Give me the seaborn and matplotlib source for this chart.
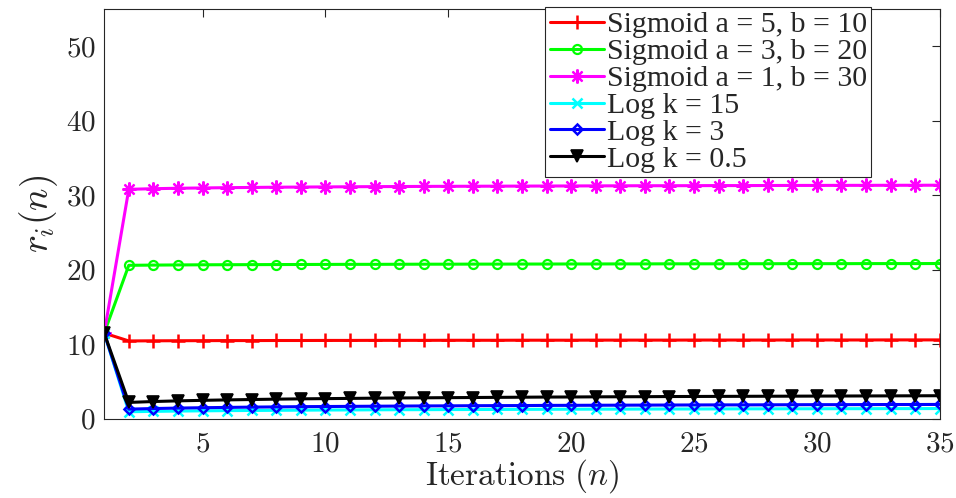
import numpy as np
import pandas as pd
import matplotlib
matplotlib.use("Agg")
import matplotlib.pyplot as plt
import seaborn as sns

iterations = list(range(1, 36))

sig_a5_b10 = [11.5, 10.45, 10.47, 10.48, 10.49, 10.50, 10.50, 10.51, 10.51, 10.52, 10.52, 10.53,
              10.53, 10.53, 10.54, 10.54, 10.54, 10.55, 10.55, 10.55, 10.56, 10.56, 10.56, 10.56,
              10.57, 10.57, 10.57, 10.57, 10.58, 10.58, 10.58, 10.58, 10.59, 10.59, 10.59]
sig_a3_b20 = [11.5, 20.60, 20.63, 20.65, 20.67, 20.68, 20.69, 20.70, 20.71, 20.72, 20.73, 20.73,
              20.74, 20.75, 20.75, 20.76, 20.76, 20.77, 20.77, 20.78, 20.78, 20.79, 20.79, 20.80,
              20.80, 20.80, 20.81, 20.81, 20.82, 20.82, 20.82, 20.83, 20.83, 20.83, 20.84]
sig_a1_b30 = [11.5, 30.80, 30.88, 30.94, 30.98, 31.02, 31.05, 31.08, 31.10, 31.12, 31.14, 31.16,
              31.17, 31.19, 31.20, 31.21, 31.22, 31.23, 31.24, 31.25, 31.26, 31.27, 31.28, 31.28,
              31.29, 31.30, 31.30, 31.31, 31.32, 31.32, 31.33, 31.33, 31.34, 31.34, 31.35]
log_k15 = [11.5, 0.95, 1.00, 1.04, 1.07, 1.10, 1.12, 1.14, 1.16, 1.18, 1.19, 1.21,
           1.22, 1.23, 1.24, 1.25, 1.26, 1.27, 1.28, 1.29, 1.30, 1.30, 1.31, 1.32,
           1.32, 1.33, 1.34, 1.34, 1.35, 1.35, 1.36, 1.36, 1.37, 1.37, 1.38]
log_k3 = [11.5, 1.30, 1.38, 1.44, 1.49, 1.53, 1.57, 1.60, 1.63, 1.65, 1.67, 1.69,
          1.71, 1.73, 1.74, 1.76, 1.77, 1.78, 1.80, 1.81, 1.82, 1.83, 1.84, 1.85,
          1.86, 1.87, 1.87, 1.88, 1.89, 1.90, 1.90, 1.91, 1.92, 1.92, 1.93]
log_k05 = [11.5, 2.20, 2.32, 2.41, 2.48, 2.54, 2.59, 2.64, 2.68, 2.71, 2.74, 2.77,
           2.80, 2.82, 2.84, 2.86, 2.88, 2.90, 2.92, 2.93, 2.95, 2.96, 2.97, 2.99,
           3.00, 3.01, 3.02, 3.03, 3.04, 3.05, 3.06, 3.07, 3.08, 3.09, 3.10]

labels = ["Sigmoid a = 5, b = 10", "Sigmoid a = 3, b = 20", "Sigmoid a = 1, b = 30",
          "Log k = 15", "Log k = 3", "Log k = 0.5"]
series = [sig_a5_b10, sig_a3_b20, sig_a1_b30, log_k15, log_k3, log_k05]

x_ticks = [5, 10, 15, 20, 25, 30, 35]
y_ticks = [0, 10, 20, 30, 40, 50]

# marker (8, 2, 0) is an eight-spoke asterisk
styles = [
    dict(color="#ff0000", marker="+", ms=10, mew=1.8, mfc="#ff0000"),
    dict(color="#00ff00", marker="o", ms=6.5, mew=1.6, mfc="none"),
    dict(color="#ff00ff", marker=(8, 2, 0), ms=10, mew=1.6, mfc="#ff00ff"),
    dict(color="#00ffff", marker="x", ms=6.5, mew=1.8, mfc="#00ffff"),
    dict(color="#0000ff", marker="D", ms=5.5, mew=1.8, mfc="none"),
    dict(color="#000000", marker="v", ms=9, mew=1.2, mfc="#000000"),
]

df = pd.DataFrame({
    "n": iterations * len(series),
    "r": [v for s in series for v in s],
    "curve": [lab for lab in labels for _ in iterations],
})

sns.set_style("white")
plt.rcParams["font.family"] = ["Liberation Serif", "DejaVu Serif"]
plt.rcParams["mathtext.fontset"] = "cm"

fig = plt.figure(figsize=(9.56, 4.98), dpi=100)
ax = fig.add_axes([0.109, 0.159, 0.874, 0.823])

for lab, st in zip(labels, styles):
    sub = df[df["curve"] == lab]
    sns.lineplot(data=sub, x="n", y="r", ax=ax, label=lab, color=st["color"],
                 marker=st["marker"], markersize=st["ms"], markeredgewidth=st["mew"],
                 markerfacecolor=st["mfc"], markeredgecolor=st["color"],
                 linewidth=2.2, estimator=None, errorbar=None)

ax.set_xlim(1, 35)
ax.set_ylim(0, 55)
ax.set_xticks(x_ticks)
ax.set_xticklabels([f"${t}$" for t in x_ticks])
ax.set_yticks(y_ticks)
ax.set_yticklabels([f"${t}$" for t in y_ticks])
ax.tick_params(axis="both", direction="in", length=6, width=0.8, labelsize=21,
               colors="#262626", top=True, right=True)
ax.tick_params(axis="x", pad=9)
ax.tick_params(axis="y", pad=6)
for sp in ax.spines.values():
    sp.set_color("#262626")
    sp.set_linewidth(0.8)

ax.set_xlabel(r"$\mathrm{Iterations}\ (n)$", fontsize=24, labelpad=0, color="#262626")
ax.set_ylabel("$r_i(n)$", fontsize=27, labelpad=4, color="#262626")

leg = ax.legend(loc="upper right", bbox_to_anchor=(0.918, 1.005), fontsize=21.5,
                frameon=True, fancybox=False, framealpha=1, edgecolor="#262626",
                borderpad=0.15, labelspacing=0.0, handlelength=1.8, handletextpad=0.1,
                borderaxespad=0)
leg.get_frame().set_linewidth(0.8)

fig.savefig("out.png", dpi=100)
